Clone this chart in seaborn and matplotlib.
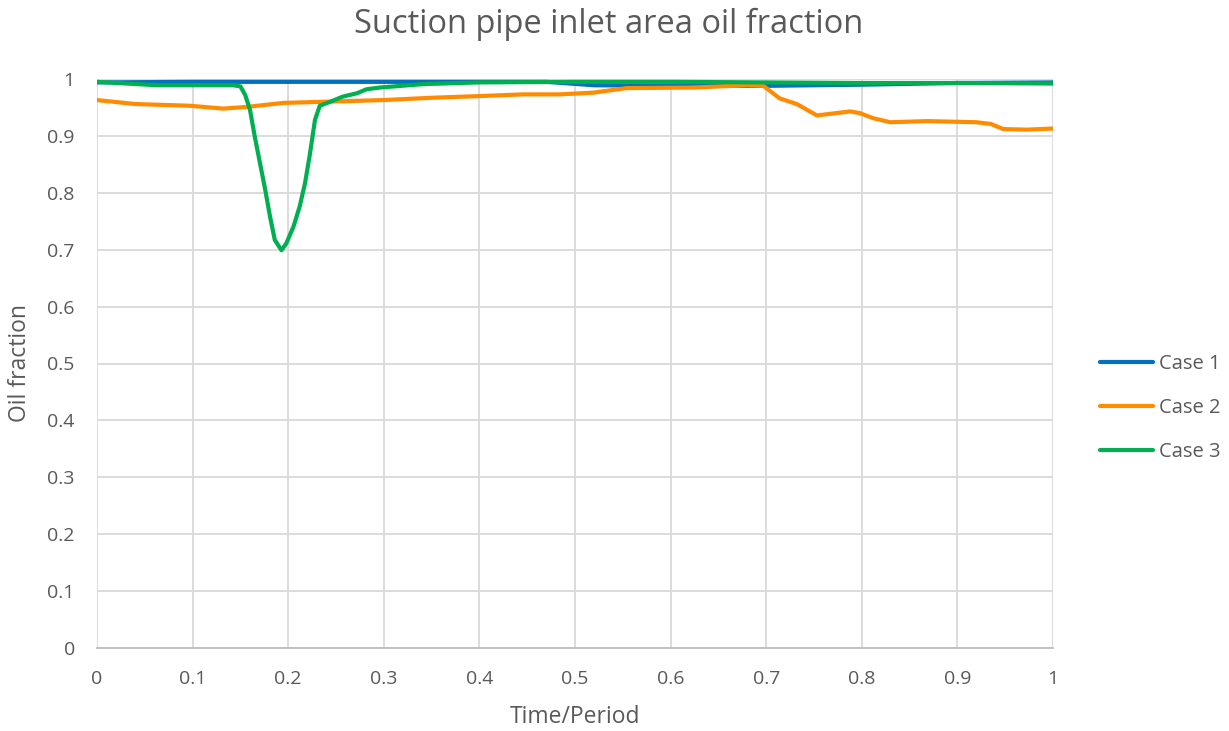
import matplotlib
matplotlib.use("Agg")
import matplotlib.pyplot as plt
import seaborn as sns
import pandas as pd

# ---- data ----
case1_x = [0.0, 0.1, 0.2, 0.3, 0.4, 0.47, 0.52, 0.6, 0.7, 0.8, 0.9, 1.0]
case1_y = [0.994, 0.995, 0.995, 0.995, 0.995, 0.995, 0.989, 0.988, 0.988, 0.990, 0.993, 0.994]

case2_x = [0.0, 0.04, 0.097, 0.132, 0.157, 0.195, 0.237, 0.30, 0.35, 0.40, 0.446, 0.484,
           0.519, 0.554, 0.624, 0.68, 0.697, 0.714, 0.732, 0.753, 0.788, 0.798, 0.812,
           0.83, 0.868, 0.92, 0.935, 0.948, 0.973, 1.0]
case2_y = [0.963, 0.956, 0.953, 0.948, 0.951, 0.958, 0.960, 0.963, 0.967, 0.970, 0.973, 0.973,
           0.976, 0.984, 0.985, 0.989, 0.988, 0.966, 0.956, 0.936, 0.943, 0.940, 0.931,
           0.924, 0.926, 0.924, 0.921, 0.912, 0.911, 0.913]

case3_x = [0.0, 0.063, 0.1426, 0.150, 0.155, 0.160, 0.165, 0.1705, 0.176, 0.181, 0.186,
           0.193, 0.198, 0.2054, 0.212, 0.2176, 0.2228, 0.228, 0.233, 0.244, 0.257, 0.272,
           0.282, 0.296, 0.341, 0.4, 0.5, 0.6, 0.7, 0.8, 0.9, 1.0]
case3_y = [0.995, 0.989, 0.989, 0.987, 0.972, 0.946, 0.899, 0.852, 0.805, 0.758, 0.717,
           0.699, 0.711, 0.740, 0.776, 0.817, 0.869, 0.928, 0.953, 0.960, 0.969, 0.975,
           0.982, 0.985, 0.991, 0.994, 0.995, 0.995, 0.994, 0.993, 0.993, 0.992]

series_names = ["Case 1", "Case 2", "Case 3"]
series_colors = ["#0070C0", "#FF8C00", "#00B050"]
x_ticks = [0, 0.1, 0.2, 0.3, 0.4, 0.5, 0.6, 0.7, 0.8, 0.9, 1]
y_ticks = [0, 0.1, 0.2, 0.3, 0.4, 0.5, 0.6, 0.7, 0.8, 0.9, 1]
tick_labels = ["0", "0.1", "0.2", "0.3", "0.4", "0.5", "0.6", "0.7", "0.8", "0.9", "1"]

frames = []
for name, xs, ys in zip(series_names, [case1_x, case2_x, case3_x], [case1_y, case2_y, case3_y]):
    frames.append(pd.DataFrame({"x": xs, "y": ys, "case": name}))
df = pd.concat(frames, ignore_index=True)

sns.set_theme(style="white")
plt.rcParams["font.family"] = ["Open Sans", "DejaVu Sans"]
txt = "#595959"

W, H = 1229, 731
fig = plt.figure(figsize=(W / 100, H / 100), dpi=100)
ax = fig.add_axes([97 / W, (H - 648) / H, (1053 - 97) / W, (648 - 79) / H])

sns.lineplot(data=df, x="x", y="y", hue="case", palette=dict(zip(series_names, series_colors)),
             linewidth=3, ax=ax, sort=False, estimator=None)

ax.set_xlim(0, 1)
ax.set_ylim(0, 1)
ax.set_xticks(x_ticks)
ax.set_yticks(y_ticks)
ax.set_xticklabels(tick_labels)
ax.set_yticklabels(tick_labels)
ax.grid(True, color="#D9D9D9", linewidth=1.3)
ax.set_axisbelow(True)
for s in ["top", "right", "left"]:
    ax.spines[s].set_visible(False)
ax.spines["bottom"].set_color("#BFBFBF")
ax.spines["bottom"].set_linewidth(1.3)
ax.tick_params(axis="both", length=0, labelsize=14, labelcolor=txt)
ax.tick_params(axis="x", pad=16)
ax.tick_params(axis="y", pad=16)

ax.set_xlabel("Time/Period", fontsize=16.5, color=txt)
ax.set_ylabel("Oil fraction", fontsize=16.5, color=txt)
ax.xaxis.set_label_coords(0.5, (648 - 717) / 569)
ax.xaxis.label.set_verticalalignment("center")
ax.yaxis.set_label_coords((20 - 97) / 956, 0.5)
ax.yaxis.label.set_verticalalignment("center")

fig.text(608.5 / W, 1 - 24 / H, "Suction pipe inlet area oil fraction", ha="center", va="center",
         fontsize=23.5, color=txt)

leg = ax.legend(loc="center left", bbox_to_anchor=((1100 - 97) / 956, (648 - 408) / 569),
                frameon=False, fontsize=14.5, handlelength=2.63, labelspacing=1.2,
                handletextpad=0.28, borderpad=0, borderaxespad=0)
for t in leg.get_texts():
    t.set_color(txt)
for h in leg.get_lines():
    h.set_linewidth(3)

fig.savefig("out.png", dpi=100)
